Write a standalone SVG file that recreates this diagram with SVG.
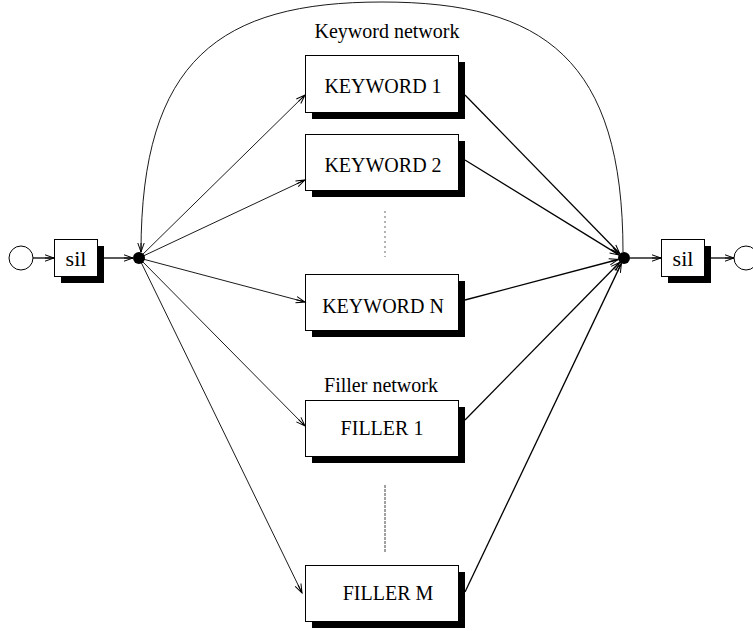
<svg xmlns="http://www.w3.org/2000/svg" width="753" height="631" viewBox="0 0 753 631">
<style>
text{font-family:"Liberation Serif","Times New Roman",serif;font-size:20px;fill:#000}
.box{fill:#fff;stroke:#000;stroke-width:1}
.sh{fill:#000}
.e{fill:none;stroke:#000;stroke-width:0.9;marker-end:url(#ah)}
.b{stroke-width:1.3}
.t{text-anchor:middle}
.s{font-size:22px}
</style>
<defs>
<marker id="ah" markerUnits="userSpaceOnUse" markerWidth="14" markerHeight="10" refX="10" refY="5" orient="auto" overflow="visible">
<path d="M1,1.8 L10,5 L1,8.2 M1,5 L10,5" fill="none" stroke="#000" stroke-width="1"/>
</marker>
</defs>
<rect width="753" height="631" fill="#fff"/>
<text class="t" x="387" y="38">Keyword network</text>
<text class="t" x="381" y="392">Filler network</text>
<g id="start"><circle cx="21" cy="258" r="12" fill="#fff" stroke="#000"/></g>
<g id="end"><circle cx="746" cy="258" r="12" fill="#fff" stroke="#000"/></g>
<g id="sil1"><rect class="sh" x="61" y="246" width="43" height="37"/><rect class="box" x="54.5" y="239.5" width="43" height="37"/><text class="t s" x="76" y="266">sil</text></g>
<g id="sil2"><rect class="sh" x="668" y="246" width="43" height="37"/><rect class="box" x="661.5" y="239.5" width="43" height="37"/><text class="t s" x="683" y="266">sil</text></g>
<g id="nodeL"><circle cx="139" cy="258" r="6" fill="#000"/></g>
<g id="nodeR"><circle cx="624" cy="258" r="6" fill="#000"/></g>
<g id="kw1"><rect class="sh" x="312" y="62" width="153" height="57"/><rect class="box" x="305.5" y="55.5" width="153" height="57"/><text class="t" x="383" y="93">KEYWORD 1</text></g>
<g id="kw2"><rect class="sh" x="312" y="141" width="153" height="56"/><rect class="box" x="305.5" y="134.5" width="153" height="56"/><text class="t" x="383" y="172">KEYWORD 2</text></g>
<g id="kwN"><rect class="sh" x="312" y="281" width="153" height="56"/><rect class="box" x="305.5" y="274.5" width="153" height="56"/><text class="t" x="383" y="313">KEYWORD N</text></g>
<g id="f1"><rect class="sh" x="312" y="407" width="153" height="56"/><rect class="box" x="305.5" y="400.5" width="153" height="56"/><text class="t" x="382" y="435">FILLER 1</text></g>
<g id="fM"><rect class="sh" x="312" y="572" width="153" height="56"/><rect class="box" x="305.5" y="565.5" width="153" height="56"/><text class="t" x="388" y="600">FILLER M</text></g>
<g id="dots">
<line x1="385" y1="211" x2="385" y2="257" stroke="#666" stroke-width="1" stroke-dasharray="2,3"/>
<line x1="385" y1="485" x2="385" y2="552" stroke="#444" stroke-width="1" stroke-dasharray="3,1"/>
</g>
<g id="connectors">
<line class="e b" x1="33" y1="258" x2="54" y2="258"/>
<line class="e b" x1="104" y1="258" x2="133" y2="258"/>
<line class="e b" x1="630" y1="258" x2="661" y2="258"/>
<line class="e b" x1="711" y1="258" x2="734" y2="258"/>
<line class="e" x1="139" y1="258" x2="305" y2="95"/>
<line class="e" x1="139" y1="258" x2="305" y2="180"/>
<line class="e" x1="139" y1="258" x2="305" y2="302"/>
<line class="e" x1="139" y1="258" x2="305" y2="426"/>
<line class="e" x1="139" y1="258" x2="302" y2="593"/>
<line class="e b" x1="465" y1="95" x2="619.8" y2="253.7"/>
<line class="e b" x1="465" y1="160" x2="618.9" y2="254.9"/>
<line class="e b" x1="465" y1="300" x2="618.2" y2="259.5"/>
<line class="e b" x1="465" y1="420" x2="619.8" y2="262.2"/>
<line class="e b" x1="465" y1="592" x2="621.4" y2="263.4"/>
<path class="e" d="M623,252 C623,60 544,2 382,2 C220,2 141,60 141,252"/>
</g>
</svg>
